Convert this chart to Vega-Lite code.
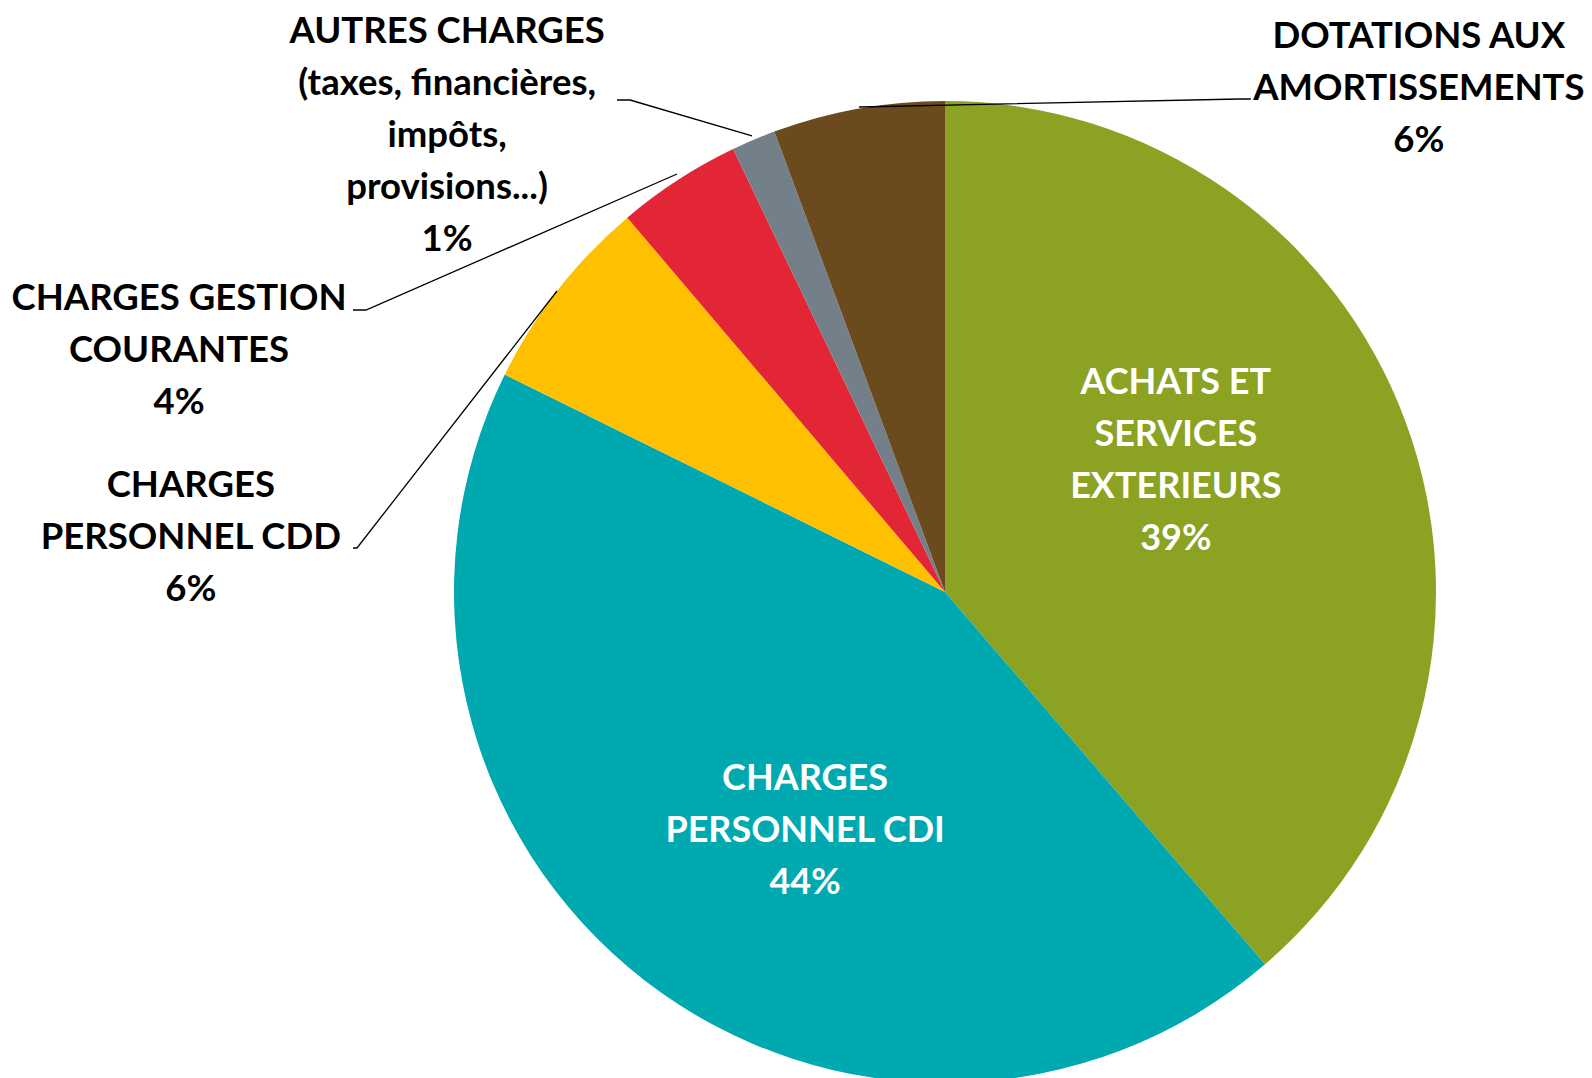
{
  "$schema": "https://vega.github.io/schema/vega-lite/v6.json",
  "width": 982,
  "height": 972,
  "autosize": {"type": "none"},
  "padding": {"left": 454, "top": 106, "right": 156, "bottom": 0},
  "background": "white",
  "config": {"view": {"stroke": null}},
  "datasets": {
    "slices": [
      {"cat": "ACHATS ET SERVICES EXTERIEURS", "value": 38.7, "ord": 1},
      {"cat": "CHARGES PERSONNEL CDI", "value": 43.6, "ord": 2},
      {"cat": "CHARGES PERSONNEL CDD", "value": 6.5, "ord": 3},
      {"cat": "CHARGES GESTION COURANTES", "value": 4.1, "ord": 4},
      {"cat": "AUTRES CHARGES", "value": 1.45, "ord": 5},
      {"cat": "DOTATIONS AUX AMORTISSEMENTS", "value": 5.65, "ord": 6}
    ],
    "lab_in": [
      {"label": "ACHATS ET\nSERVICES\nEXTERIEURS\n39%", "x": 0.470, "y": 0.4257},
      {"label": "CHARGES\nPERSONNEL CDI\n44%", "x": -0.285, "y": -0.3808}
    ],
    "lab_out": [
      {"label": "DOTATIONS AUX\nAMORTISSEMENTS\n6%", "x": 0.965, "y": 1.1294},
      {"label": "AUTRES CHARGES\n(taxes, financières,\nimpôts,\nprovisions...)\n1%", "x": -1.014, "y": 1.1396},
      {"label": "CHARGES GESTION\nCOURANTES\n4%", "x": -1.560, "y": 0.5958},
      {"label": "CHARGES\nPERSONNEL CDD\n6%", "x": -1.536, "y": 0.216}
    ],
    "leaders": [
      {"lid": "D", "k": 1, "x": 0.623, "y": 1.0041},
      {"lid": "D", "k": 2, "x": 0.600, "y": 1.0041},
      {"lid": "D", "k": 3, "x": -0.175, "y": 0.9878},
      {"lid": "A", "k": 1, "x": -0.668, "y": 1.002},
      {"lid": "A", "k": 2, "x": -0.6415, "y": 1.002},
      {"lid": "A", "k": 3, "x": -0.393, "y": 0.929},
      {"lid": "G", "k": 1, "x": -1.2057, "y": 0.5743},
      {"lid": "G", "k": 2, "x": -1.1792, "y": 0.5743},
      {"lid": "G", "k": 3, "x": -0.5458, "y": 0.8513},
      {"lid": "C", "k": 1, "x": -1.2057, "y": 0.0896},
      {"lid": "C", "k": 2, "x": -1.1976, "y": 0.0896},
      {"lid": "C", "k": 3, "x": -0.7902, "y": 0.6130}
    ]
  },
  "layer": [
    {
      "data": {"name": "slices"},
      "mark": {"type": "arc", "radius": 491},
      "encoding": {
        "theta": {"field": "value", "type": "quantitative", "stack": true},
        "order": {"field": "ord", "type": "quantitative"},
        "color": {
          "field": "cat", "type": "nominal", "legend": null,
          "scale": {
            "domain": ["ACHATS ET SERVICES EXTERIEURS", "CHARGES PERSONNEL CDI", "CHARGES PERSONNEL CDD", "CHARGES GESTION COURANTES", "AUTRES CHARGES", "DOTATIONS AUX AMORTISSEMENTS"],
            "range": ["#8BA223", "#00A8B0", "#FFC000", "#E32636", "#748089", "#6B4A1E"]
          }
        }
      }
    },
    {
      "data": {"name": "leaders"},
      "mark": {"type": "line", "color": "black", "strokeWidth": 1.3},
      "encoding": {
        "x": {"field": "x", "type": "quantitative", "axis": null, "scale": {"domain": [-1, 1], "nice": false, "zero": false}},
        "y": {"field": "y", "type": "quantitative", "axis": null, "scale": {"domain": [-0.98982, 0.98982], "nice": false, "zero": false}},
        "detail": {"field": "lid", "type": "nominal"},
        "order": {"field": "k", "type": "quantitative"}
      }
    },
    {
      "data": {"name": "lab_in"},
      "mark": {"type": "text", "color": "white", "font": "Lato", "fontWeight": "bold", "fontSize": 36, "lineHeight": 52, "lineBreak": "\n", "align": "center", "baseline": "middle"},
      "encoding": {
        "x": {"field": "x", "type": "quantitative", "axis": null, "scale": {"domain": [-1, 1], "nice": false, "zero": false}},
        "y": {"field": "y", "type": "quantitative", "axis": null, "scale": {"domain": [-0.98982, 0.98982], "nice": false, "zero": false}},
        "text": {"field": "label", "type": "nominal"}
      }
    },
    {
      "data": {"name": "lab_out"},
      "mark": {"type": "text", "color": "black", "font": "Lato", "fontWeight": "bold", "fontSize": 36.5, "lineHeight": 52, "lineBreak": "\n", "align": "center", "baseline": "middle"},
      "encoding": {
        "x": {"field": "x", "type": "quantitative", "axis": null, "scale": {"domain": [-1, 1], "nice": false, "zero": false}},
        "y": {"field": "y", "type": "quantitative", "axis": null, "scale": {"domain": [-0.98982, 0.98982], "nice": false, "zero": false}},
        "text": {"field": "label", "type": "nominal"}
      }
    }
  ]
}
